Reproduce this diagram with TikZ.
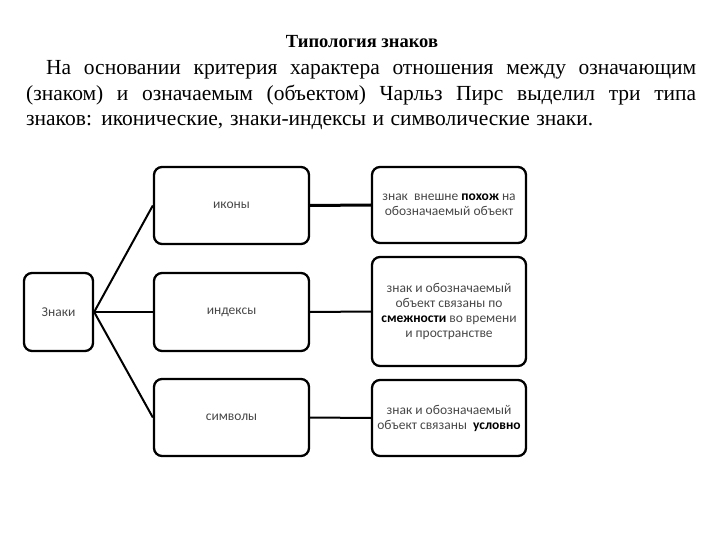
\documentclass[tikz,border=0pt]{standalone}
\usepackage{fontspec}
\setmainfont{Liberation Serif}
\newfontfamily\condserif{Liberation Serif}
\newfontfamily\boxfont{Carlito}
\tikzset{
  sbox/.style={draw=black, line width=2.3pt, rounded corners=8pt, inner sep=0pt, align=center,
    font=\boxfont\fontsize{13.5}{15}\selectfont, text=black!72},
  conn/.style={line width=2pt},
  bodyline/.style={anchor=base west, inner sep=0pt, font=\condserif\fontsize{21.5}{26}\selectfont}
}
\begin{document}
\begin{tikzpicture}[x=1pt,y=-1pt]
\useasboundingbox (0,0) rectangle (720,540);
\node[anchor=base, inner sep=0pt, font=\condserif\bfseries\fontsize{18.5}{22}\selectfont] (title) at (362,48) {Типология знаков};
\node[bodyline] (l1) at (46,75) {\makebox[650pt][s]{На основании критерия характера отношения между означающим}};
\node[bodyline] (l2) at (26,101) {\makebox[670pt][s]{(знаком) и означаемым (объектом) Чарльз Пирс выделил три типа}};
\node[bodyline] (l3) at (26,126) {\makebox[567pt][s]{знаков: иконические, знаки-индексы и символические знаки.}};

\node[sbox, minimum width=69pt, minimum height=78pt] (znaki) at (58.5,312) {Знаки};
\node[sbox, minimum width=155pt, minimum height=77pt] (ikony) at (231.5,205.5) {иконы};
\node[sbox, minimum width=155pt, minimum height=78pt] (indeksy) at (231.5,312) {индексы};
\node[sbox, minimum width=155pt, minimum height=77pt] (simvoly) at (231.5,417.5) {символы};
\node[sbox, minimum width=154pt, minimum height=76pt] (r1) at (449,205) {знак~ внешне \textbf{\color{black}похож} на\\обозначаемый объект};
\node[sbox, minimum width=154pt, minimum height=109pt] (r2) at (449,311.5) {знак и обозначаемый\\объект связаны по\\\textbf{\color{black}смежности} во времени\\и пространстве};
\node[sbox, minimum width=154pt, minimum height=76pt] (r3) at (449,418) {знак и обозначаемый\\объект связаны~ \textbf{\color{black}условно}};

\draw[conn] (znaki.east) -- (ikony.west);
\draw[conn] (znaki.east) -- (indeksy.west);
\draw[conn] (znaki.east) -- (simvoly.west);
\draw[conn, line width=3pt] (ikony.east) -- (r1.west);
\draw[conn] (indeksy.east) -- (r2.west);
\draw[conn] (simvoly.east) -- (r3.west);
\end{tikzpicture}
\end{document}
